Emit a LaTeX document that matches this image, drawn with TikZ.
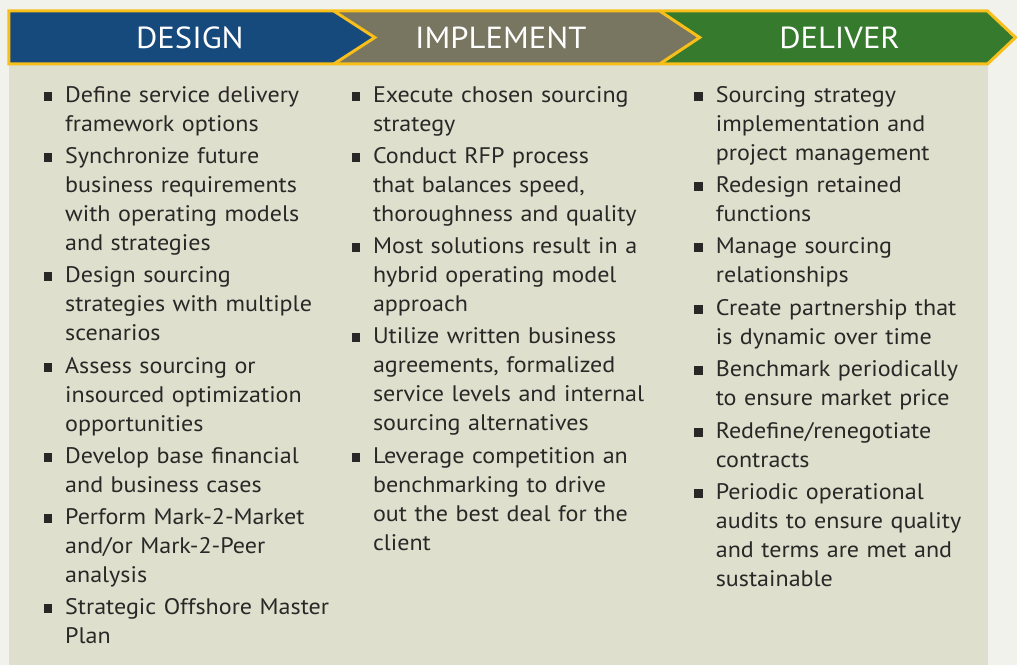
\documentclass[tikz,border=0pt]{standalone}
\usepackage{fontspec}
\setmainfont{PT Sans}[FakeStretch=1.07]
\usepackage{tikz}

\definecolor{bgcol}{HTML}{F1F2EC}
\definecolor{panelcol}{HTML}{DFDFCE}
\definecolor{designcol}{HTML}{174A7C}
\definecolor{implcol}{HTML}{787560}
\definecolor{delivcol}{HTML}{367A2D}
\definecolor{rimcol}{HTML}{F8BE1A}
\definecolor{inkcol}{HTML}{2A2827}

\begin{document}
\begin{tikzpicture}[x=1pt,y=-1pt,
    head/.style={text=white,inner sep=0pt,font=\fontsize{30.5}{31}\selectfont},
    itm/.style={anchor=base west,inner sep=0pt,text width=300pt,align=left,
        text=inkcol,font=\fontsize{22.5}{29}\selectfont},
    sq/.style={fill=inkcol,inner sep=0pt,minimum size=8.5pt}]
\fill[bgcol] (0,0) rectangle (1017,665);
\fill[panelcol] (9,64) rectangle (988,665);
% banner
\fill[designcol] (9,11) -- (334,11) -- (375,37.5) -- (334,64) -- (9,64) -- cycle;
\fill[implcol] (334,11) -- (660,11) -- (700,37.5) -- (660,64) -- (334,64) -- (375,37.5) -- cycle;
\fill[delivcol] (660,11) -- (988,11) -- (1016,37.5) -- (988,64) -- (660,64) -- (700,37.5) -- cycle;
\draw[rimcol,line width=3pt,line join=miter] (9,11) -- (988,11) -- (1016,37.5) -- (988,64) -- (9,64) -- cycle;
\draw[rimcol,line width=3pt] (334,11) -- (375,37.5) -- (334,64);
\draw[rimcol,line width=3pt] (660,11) -- (700,37.5) -- (660,64);
\node[head] (design) at (190,38) {DESIGN};
\node[head] (implement) at (501,38) {IMPLEMENT};
\node[head] (deliver) at (840,38) {DELIVER};
% design column
\node[itm] (d1) at (65,103) {Define service delivery\\framework options};
\node[itm] (d2) at (65,164) {Synchronize future\\business requirements\\with operating models\\and strategies};
\node[itm] (d3) at (65,283) {Design sourcing\\strategies with multiple\\scenarios};
\node[itm] (d4) at (65,374) {Assess sourcing or\\insourced optimization\\opportunities};
\node[itm] (d5) at (65,464) {Develop base financial\\and business cases};
\node[itm] (d6) at (65,525) {Perform Mark-2-Market\\and/or Mark-2-Peer\\analysis};
\node[itm] (d7) at (65,615) {Strategic Offshore Master\\Plan};
% implement column
\node[itm] (i1) at (373,103) {Execute chosen sourcing\\strategy};
\node[itm] (i2) at (373,164) {Conduct RFP process\\that balances speed,\\thoroughness and quality};
\node[itm] (i3) at (373,254) {Most solutions result in a\\hybrid operating model\\approach};
\node[itm] (i4) at (373,344) {Utilize written business\\agreements, formalized\\service levels and internal\\sourcing alternatives};
\node[itm] (i5) at (373,464) {Leverage competition an\\benchmarking to drive\\out the best deal for the\\client};
% deliver column
\node[itm] (v1) at (716,103) {Sourcing strategy\\implementation and\\project management};
\node[itm] (v2) at (716,193) {Redesign retained\\functions};
\node[itm] (v3) at (716,254) {Manage sourcing\\relationships};
\node[itm] (v4) at (716,316) {Create partnership that\\is dynamic over time};
\node[itm] (v5) at (716,377) {Benchmark periodically\\to ensure market price};
\node[itm] (v6) at (716,439) {Redefine/renegotiate\\contracts};
\node[itm] (v7) at (716,500) {Periodic operational\\audits to ensure quality\\and terms are met and\\sustainable};
% bullets
\foreach \n in {d1,d2,d3,d4,d5,d6,d7,i1,i2,i3,i4,i5,v1,v2,v3,v4,v5,v6,v7}
    \node[sq] (sq-\n) at ([xshift=-17pt,yshift=6.3pt]\n.base west) {};
\end{tikzpicture}
\end{document}
